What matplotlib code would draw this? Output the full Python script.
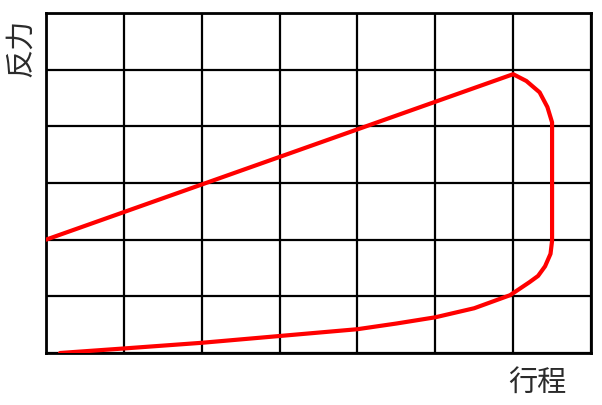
import matplotlib
matplotlib.use("Agg")
import matplotlib.pyplot as plt

plt.rcParams['font.family'] = ['Noto Sans CJK SC', 'DejaVu Sans']

# curve, in grid units (7 columns x 6 rows)
stroke = [0, 6.0, 6.17, 6.34, 6.44, 6.5, 6.5, 6.5, 6.48, 6.41, 6.32, 6.21, 6.08, 5.96,
          5.5, 5.0, 4.5, 4.0, 3.0, 2.0, 1.0, 0.18]
force = [2.0, 4.92, 4.8, 4.6, 4.34, 4.07, 3.83, 1.98, 1.75, 1.53, 1.36, 1.25, 1.13, 1.02,
         0.79, 0.63, 0.52, 0.42, 0.30, 0.18, 0.08, 0.0]
x_label = "行程"
y_label = "反力"

fig = plt.figure(figsize=(6.02, 4.06), dpi=100)
ax = fig.add_axes([46 / 602, 52 / 406, 545 / 602, 340 / 406])

ax.plot(stroke, force, color="#ff0000", lw=3, solid_joinstyle="round", solid_capstyle="round", zorder=3)

ax.set_xlim(0, 7)
ax.set_ylim(0, 6)
ax.set_xticks(range(8))
ax.set_yticks(range(7))
ax.grid(True, color="black", lw=1.6)
ax.tick_params(length=0, labelbottom=False, labelleft=False)
for s in ax.spines.values():
    s.set_linewidth(2)
    s.set_color("black")

fig.text(21 / 602, 1 - 48 / 406, y_label, rotation=90, fontsize=21,
         ha="center", va="center", color="#2a2a2a")
fig.text(537 / 602, 1 - 383 / 406, x_label, fontsize=21,
         ha="center", va="center", color="#2a2a2a")

fig.savefig("out.png", dpi=100)
